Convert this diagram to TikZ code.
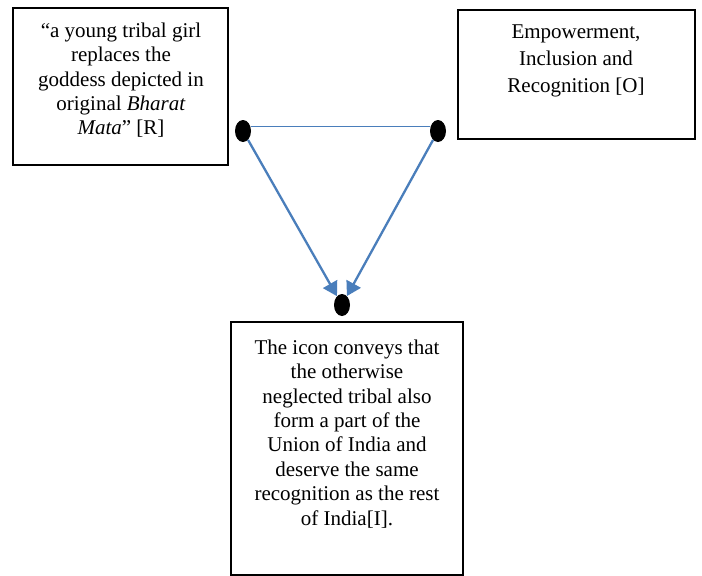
\documentclass[tikz,border=0pt]{standalone}
\usepackage{fontspec}
\setmainfont{Liberation Serif}
\usetikzlibrary{shapes.geometric,arrows.meta}
\definecolor{linkblue}{RGB}{74,126,187}
\tikzset{
  box/.style={draw=black, line width=1.3pt, rectangle, inner sep=0pt},
  boxtext/.style={align=center, inner sep=0pt, anchor=north, font=\fontsize{21}{24.4}\selectfont},
  dot/.style={ellipse, fill=black, inner sep=0pt, minimum width=16pt, minimum height=22pt},
  link/.style={draw=linkblue, line width=2.3pt, -{Triangle[width=16pt,length=14pt]}},
  thinlink/.style={draw=linkblue, line width=1pt}
}
\begin{document}
\begin{tikzpicture}[x=1pt,y=-1pt]
\useasboundingbox (0,0) rectangle (702,576);
\fill[white] (0,0) rectangle (702,576);
% boxes
\node[box, minimum width=215pt, minimum height=157pt] (rbox) at (120.5,86.5) {};
\node[box, minimum width=237pt, minimum height=129pt] (obox) at (576.5,74.5) {};
\node[box, minimum width=232pt, minimum height=253pt] (ibox) at (347,448.5) {};
% texts
\node[boxtext] (rtext) at (121,22.5) {“a young tribal girl\\replaces the\\goddess depicted in\\original \textit{Bharat}\\\textit{Mata}” [R]};
\node[boxtext, font=\fontsize{21}{26.7}\selectfont] (otext) at (576,25) {Empowerment,\\Inclusion and\\Recognition [O]};
\node[boxtext] (itext) at (347,339.5) {The icon conveys that\\the otherwise\\neglected tribal also\\form a part of the\\Union of India and\\deserve the same\\recognition as the rest\\of India[I].};
% dots
\node[dot] (ldot) at (243,131) {};
\node[dot] (rdot) at (438,131) {};
\node[dot] (bdot) at (342,305) {};
% connectors
\draw[thinlink] ([yshift=5pt]ldot.east) -- ([yshift=5pt]rdot.west);
\draw[link] (ldot) -- (bdot);
\draw[link] (rdot) -- (bdot);
\end{tikzpicture}
\end{document}
